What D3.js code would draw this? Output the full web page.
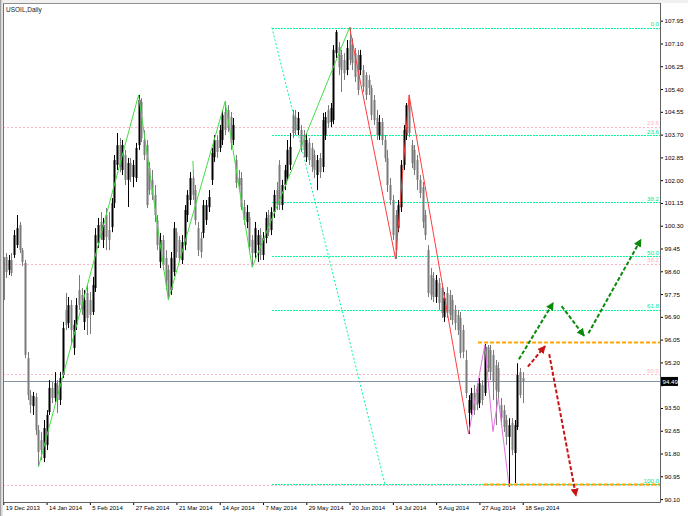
<!DOCTYPE html>
<html><head><meta charset="utf-8">
<script src="https://cdn.jsdelivr.net/npm/d3@7"></script>
<style>body{margin:0;background:#fff}svg{display:block;font-family:"Liberation Sans",Arial,sans-serif}</style>
</head><body><svg id="c" width="688" height="516"></svg>
<script>
const title = "USOIL,Daily";
const tickDates = ["19 Dec 2013","14 Jan 2014","5 Feb 2014","27 Feb 2014","21 Mar 2014","14 Apr 2014","7 May 2014","29 May 2014","20 Jun 2014","14 Jul 2014","5 Aug 2014","27 Aug 2014","18 Sep 2014"];
const tickBars = [0,16,32,48,64,80,96,112,128,144,160,176,192];
const priceTicks = [107.95,107.10,106.25,105.40,104.55,103.70,102.85,102.00,101.15,100.30,99.45,98.60,97.75,96.90,96.05,95.20,94.35,93.50,92.65,91.80,90.95,90.10];
const lastPrice = 94.49;
// [open, high, low, close]
const candles = [
[97.53,99.39,97.34,99.13],[99.13,99.28,98.35,98.57],[98.65,99.21,98.46,99.02],[99.02,99.28,98.42,98.53],[99.21,100.14,99.10,99.95],
[99.58,100.70,99.47,100.21],[100.33,100.44,99.28,99.39],[99.39,99.47,98.80,98.95],[98.91,99.02,95.36,95.48],[95.36,95.59,93.80,93.98],
[93.98,94.17,93.31,93.61],[93.57,94.10,93.24,93.95],[93.91,94.06,92.49,92.68],[92.68,92.86,91.30,91.86],[92.30,92.60,91.56,91.93],
[91.63,93.05,91.48,92.75],[92.12,93.42,91.93,93.24],[93.35,94.54,93.24,94.25],[94.25,94.47,93.68,93.87],[93.87,94.84,93.72,94.43],
[94.36,94.54,93.31,93.80],[93.80,94.84,93.61,94.62],[94.73,96.71,94.62,96.48],[97.16,97.79,96.41,96.60],[96.67,97.64,96.48,97.34],
[97.34,97.53,95.85,96.41],[95.74,96.78,95.48,96.60],[96.60,97.60,96.41,97.34],[97.90,98.46,97.16,97.34],[97.72,97.98,96.97,97.16],
[96.71,97.90,96.41,97.53],[97.79,98.09,96.22,96.86],[97.53,97.83,96.26,96.97],[97.08,98.39,96.97,98.09],[97.98,100.21,97.83,99.95],
[99.65,100.59,99.47,100.33],[100.44,100.81,99.77,99.95],[99.77,100.59,99.47,100.33],[100.70,100.96,99.39,99.88],[100.14,100.81,99.39,99.77],
[100.25,101.33,100.06,101.15],[101.15,102.94,100.96,102.75],[102.57,103.76,102.38,103.31],[103.31,103.57,102.30,102.49],[102.38,103.50,102.19,103.31],
[102.94,103.13,101.82,102.01],[102.01,102.83,101.00,102.64],[102.64,102.83,101.93,102.12],[102.12,102.75,101.74,102.57],[102.08,103.39,101.93,103.20],
[103.31,105.18,103.13,104.99],[104.92,105.06,103.42,103.57],[103.50,103.87,102.75,102.94],[103.31,103.50,100.96,101.07],[102.45,102.68,101.45,101.63],
[102.01,102.38,101.26,101.45],[101.45,101.82,100.44,100.70],[100.51,100.70,99.39,99.58],[98.95,100.03,98.72,99.77],[99.77,99.95,98.65,98.83],
[99.10,99.39,97.90,98.27],[98.65,98.83,97.53,97.72],[97.90,99.32,97.72,99.10],[98.57,100.44,98.42,100.21],[100.06,100.21,99.10,99.32],
[99.77,99.92,98.95,99.10],[99.02,99.95,98.87,99.69],[99.58,101.07,99.39,100.89],[100.70,101.63,100.44,101.45],[101.26,102.30,101.07,102.08],
[102.08,102.38,101.26,101.45],[101.63,101.82,100.33,100.51],[100.21,100.44,99.17,99.39],[99.84,100.06,99.10,99.32],[100.03,101.26,99.84,101.07],
[100.51,101.26,100.33,101.07],[100.99,101.63,100.81,101.37],[102.01,103.20,101.82,103.01],[102.86,103.68,102.68,103.50],[103.50,103.68,102.83,103.05],
[103.20,104.06,103.05,103.87],[103.50,104.62,103.31,104.43],[104.54,104.95,103.68,103.87],[104.62,104.80,103.80,103.95],[104.36,104.54,103.13,103.39],
[103.50,104.32,103.31,104.06],[102.75,102.94,101.71,101.89],[102.08,102.38,101.63,101.82],[102.08,102.30,100.89,101.00],[101.00,101.26,100.33,100.51],
[100.44,101.07,100.21,100.81],[100.62,100.81,99.32,99.51],[99.77,99.95,98.76,99.28],[99.28,100.44,99.10,100.21],[99.58,100.14,98.95,99.95],
[99.95,100.21,99.02,99.21],[99.21,100.06,99.02,99.84],[99.84,100.81,99.65,100.59],[100.70,100.89,99.92,100.06],[100.14,100.99,99.95,100.81],
[100.81,101.63,100.59,101.45],[101.63,101.93,100.89,101.07],[102.57,102.75,100.89,101.07],[101.07,102.01,100.89,101.82],[101.82,102.57,101.63,102.38],
[102.12,103.50,102.01,103.13],[102.57,103.76,102.38,103.24],[104.43,104.62,103.57,103.76],[104.36,104.62,103.68,103.87],[103.87,104.54,103.68,104.32],
[103.87,104.06,103.05,103.24],[103.68,103.87,102.86,103.13],[102.86,103.76,102.68,103.50],[103.39,103.57,102.57,102.75],[103.20,103.39,102.30,102.49],
[102.94,103.13,102.08,102.38],[102.19,102.94,101.63,102.75],[102.83,103.01,102.08,102.30],[102.49,104.51,102.30,104.24],[103.68,104.54,103.50,104.36],
[104.62,104.80,103.95,104.13],[104.17,104.88,103.98,104.69],[104.24,107.04,104.09,106.86],[106.74,107.60,106.56,107.53],[106.97,107.15,105.92,106.22],
[106.67,106.86,105.29,106.11],[106.48,106.74,105.74,105.99],[106.11,107.23,105.92,106.93],[107.23,107.70,106.30,106.48],[107.04,107.30,106.11,106.37],
[106.74,106.93,105.66,105.85],[106.67,106.86,105.18,105.36],[106.11,106.86,105.92,106.67],[106.11,106.30,105.29,105.48],[105.92,106.03,104.99,105.18],
[105.74,105.92,105.18,105.44],[105.44,105.55,104.24,104.43],[104.99,105.18,104.06,104.24],[104.32,104.62,103.50,103.68],[103.68,104.43,103.50,104.17],
[104.17,104.32,103.31,103.50],[103.50,103.68,102.68,102.83],[102.83,103.13,101.56,101.82],[101.82,102.08,101.07,101.26],[101.26,101.45,99.77,99.95],
[100.70,100.89,99.06,99.39],[100.21,101.26,100.06,101.07],[100.99,102.75,100.81,102.57],[102.57,104.06,102.38,103.87],[103.68,104.88,103.50,104.80],
[104.88,105.18,103.61,103.76],[103.31,103.50,102.45,102.64],[103.13,103.31,102.19,102.38],[102.75,102.94,101.63,102.01],[102.01,102.19,101.33,101.52],
[101.74,101.93,100.21,100.44],[100.70,100.89,99.77,99.95],[99.39,99.58,97.64,97.79],[98.46,98.72,97.53,97.72],[98.35,98.57,97.45,97.64],
[97.64,98.46,97.42,98.27],[98.16,98.35,97.16,97.42],[97.98,98.16,96.86,97.05],[96.89,97.83,96.71,97.60],[97.79,98.01,96.86,97.05],
[97.72,97.90,96.78,96.97],[97.53,97.72,96.60,96.78],[97.16,97.34,96.41,96.67],[96.97,97.16,96.22,96.41],[96.86,97.08,95.36,95.55],
[96.41,96.60,95.36,95.59],[95.29,95.66,93.87,94.06],[93.31,93.98,92.53,93.80],[93.42,94.25,93.24,94.06],[94.06,94.36,93.24,93.42],
[94.06,94.36,93.42,93.61],[93.68,94.62,93.50,94.43],[94.36,94.54,93.61,93.80],[94.06,95.89,93.95,95.78],[95.78,95.85,94.84,94.99],
[95.66,95.85,94.54,94.84],[95.48,95.66,93.80,94.47],[95.10,95.29,92.86,94.17],[94.99,95.21,93.87,94.10],[93.61,93.87,92.86,93.13],
[93.42,93.61,92.60,92.79],[93.05,93.24,92.12,92.42],[92.42,93.12,90.55,92.86],[92.94,93.12,91.74,91.93],[91.82,93.05,90.70,92.86],
[92.79,95.17,92.68,94.73],[94.84,94.99,93.87,93.98],[94.62,94.84,93.68,94.49]
];
const zigGreen = [[13,91.30],[50,105.18],[61,97.53],[82,104.93],[92,98.75],[128,107.70]];
const zigGreenStub = [[70.1,102.72],[70.3,102.16]];
const zigRed = [[128,107.70],[145,99.06],[150,105.18],[172,92.53]];
const zigViolet = [[172,92.53],[178,95.85],[181,92.62],[183,93.87],[187,90.55]];
const fibGreenAnchor = [[99.3,107.69],[141.1,90.65]];
const fibGreenLevels = [0,23.6,38.2,50.0,61.8,100.0];
const fibPinkAnchor = [[-40,112.25],[-10,77.25]];
const fibPinkLevels = [23.6,38.2,50.0,61.8];
const fibPinkLabels = [23.6,38.2,50.0];
const supportLevels = [[175.5,95.96],[177.7,90.65]];
const greenArrows = [[[190.6,95.32],[203.3,97.43]],[[206.4,97.30],[214.7,96.19]],[[216.3,96.29],[235.7,99.79]]];
const redArrows = [[[193.9,95.04],[200.3,95.81]],[[201.8,95.51],[211.7,90.22]]];

const W=688,H=516, L=3, R=660, T=3, B=502;
const svg=d3.select("#c");
const x=d3.scaleLinear().domain([0,192]).range([3.3,522.7]);
const y=d3.scaleLinear().domain([90.10,107.95]).range([499.1,20.7]);

svg.append("rect").attr("width",W).attr("height",H).attr("fill","#fff");
svg.append("rect").attr("x",0).attr("y",0).attr("width",W).attr("height",3).attr("fill","#f0f0f0");
svg.append("rect").attr("x",0).attr("y",0).attr("width",1.5).attr("height",H).attr("fill","#a0a0a0");
svg.append("rect").attr("x",1.5).attr("y",0).attr("width",1.5).attr("height",H).attr("fill","#e4e4e4");

const defs=svg.append("defs");
defs.append("clipPath").attr("id","plot").append("rect").attr("x",L+0.5).attr("y",T+0.5).attr("width",R-L-0.5).attr("height",B-T-0.5);
[["ag","#0a8a0a"],["ar","#c81414"]].forEach(([id,col])=>{
  defs.append("marker").attr("id",id).attr("viewBox","0 0 10 10").attr("refX",9).attr("refY",5)
   .attr("markerWidth",4).attr("markerHeight",4).attr("orient","auto").attr("markerUnits","strokeWidth")
   .append("path").attr("d","M0,0L10,5L0,10z").attr("fill",col);
});
const g=svg.append("g").attr("clip-path","url(#plot)");

const pinkP=r=>fibPinkAnchor[0][1]-(fibPinkAnchor[0][1]-fibPinkAnchor[1][1])*r/100;
g.selectAll(".pf").data(fibPinkLevels).join("line")
 .attr("x1",L).attr("x2",R).attr("y1",d=>Math.round(y(pinkP(d)))+0.5).attr("y2",d=>Math.round(y(pinkP(d)))+0.5)
 .attr("stroke","#ffb6c1").attr("stroke-dasharray","2,2").attr("stroke-width",1);
const gP=r=>fibGreenAnchor[0][1]-(fibGreenAnchor[0][1]-fibGreenAnchor[1][1])*r/100;
g.selectAll(".gf").data(fibGreenLevels).join("line")
 .attr("x1",x(fibGreenAnchor[0][0])).attr("x2",R).attr("y1",d=>Math.round(y(gP(d)))+0.5).attr("y2",d=>Math.round(y(gP(d)))+0.5)
 .attr("stroke","#00fa9a").attr("stroke-dasharray","2,1").attr("stroke-width",1);
g.append("line").attr("x1",x(fibGreenAnchor[0][0])).attr("y1",y(fibGreenAnchor[0][1]))
 .attr("x2",x(fibGreenAnchor[1][0])).attr("y2",y(fibGreenAnchor[1][1]))
 .attr("stroke","#00fa9a").attr("stroke-dasharray","2,2").attr("stroke-width",1);

g.append("line").attr("x1",L).attr("x2",R).attr("y1",Math.round(y(lastPrice))+0.5).attr("y2",Math.round(y(lastPrice))+0.5)
 .attr("stroke","#8595a6").attr("stroke-width",1);

const cg=g.append("g");
candles.forEach((c,i)=>{
  const [o,h,l,cl]=c; const up=cl>=o; const col=up?"#000":"#7a7a7a";
  const cx=Math.round(x(i));
  cg.append("line").attr("x1",cx+0.5).attr("x2",cx+0.5).attr("y1",y(h)).attr("y2",y(l)).attr("stroke",col).attr("stroke-width",1);
  const top=y(Math.max(o,cl)), bot=y(Math.min(o,cl));
  cg.append("rect").attr("x",cx-0.5).attr("y",top).attr("width",2).attr("height",Math.max(1,bot-top)).attr("fill",col);
});

const ln=d3.line().x(d=>x(d[0])).y(d=>y(d[1]));
g.append("path").attr("d",ln(zigGreen)).attr("fill","none").attr("stroke","#44dd44").attr("stroke-width",1);
g.append("path").attr("d",ln(zigGreenStub)).attr("fill","none").attr("stroke","#44dd44").attr("stroke-width",1);
g.append("path").attr("d",ln(zigRed)).attr("fill","none").attr("stroke","#ff3c3c").attr("stroke-width",1);
g.append("path").attr("d",ln(zigViolet)).attr("fill","none").attr("stroke","#e070e0").attr("stroke-width",1);

g.selectAll(".or").data(supportLevels).join("line")
 .attr("x1",d=>x(d[0])).attr("x2",R).attr("y1",d=>Math.round(y(d[1]))+0.5).attr("y2",d=>Math.round(y(d[1]))+0.5)
 .attr("stroke","#ffa500").attr("stroke-width",2).attr("stroke-dasharray","4,2");

g.selectAll(".ga").data(greenArrows).join("path").attr("d",d=>ln(d)).attr("fill","none")
 .attr("stroke","#0a8a0a").attr("stroke-width",2).attr("stroke-dasharray","4,2").attr("marker-end","url(#ag)");
g.selectAll(".ra").data(redArrows).join("path").attr("d",d=>ln(d)).attr("fill","none")
 .attr("stroke","#c81414").attr("stroke-width",2).attr("stroke-dasharray","4,2").attr("marker-end","url(#ar)");

svg.selectAll(".gl").data(fibGreenLevels).join("text").attr("x",659).attr("y",d=>y(gP(d))-1.5)
 .attr("text-anchor","end").attr("font-size","6.2px").attr("fill","#00e890").text(d=>d.toFixed(1));
svg.selectAll(".pl").data(fibPinkLabels).join("text").attr("x",659).attr("y",d=>y(pinkP(d))-1.5)
 .attr("text-anchor","end").attr("font-size","6.2px").attr("fill","#ffb6c1").text(d=>d.toFixed(1));

svg.append("line").attr("x1",L+0.5).attr("x2",L+0.5).attr("y1",T).attr("y2",B).attr("stroke","#707070");
svg.append("line").attr("x1",L).attr("x2",R).attr("y1",T+0.5).attr("y2",T+0.5).attr("stroke","#909090");

// right axis (the label under the last-price box is hidden, as in the reference)
const ya=svg.append("g").attr("transform",`translate(${R},0)`)
 .call(d3.axisRight(y).tickValues(priceTicks).tickFormat(d=>Math.abs(d-lastPrice)<0.3?"":d3.format(".2f")(d)).tickSize(3).tickSizeOuter(0).tickPadding(1.5));
ya.select(".domain").remove();
ya.selectAll("line").attr("stroke","#000");
ya.selectAll("text").attr("font-size","6.2px").attr("fill","#000").attr("font-family","Liberation Sans, Arial, sans-serif");
svg.append("line").attr("x1",R+0.5).attr("x2",R+0.5).attr("y1",T).attr("y2",B+0.5).attr("stroke","#606060");

const xa=svg.append("g").attr("transform",`translate(0,${B})`)
 .call(d3.axisBottom(x).tickValues(tickBars).tickFormat((d,i)=>tickDates[i]).tickSize(3).tickSizeOuter(0));
xa.select(".domain").remove();
xa.selectAll("line").attr("stroke","#000");
xa.selectAll("text").attr("text-anchor","start").attr("x",2).attr("y",4).attr("dy","0.71em")
 .attr("font-size","6px").attr("fill","#000").attr("font-family","Liberation Sans, Arial, sans-serif");
svg.append("line").attr("x1",L).attr("x2",R+0.5).attr("y1",B+0.5).attr("y2",B+0.5).attr("stroke","#606060");

const ly=y(lastPrice);
svg.append("rect").attr("x",R+1).attr("y",ly-4.5).attr("width",17).attr("height",9).attr("fill","#000");
svg.append("text").attr("x",R+2.5).attr("y",ly).attr("dy","0.35em").attr("font-size","6.2px").attr("fill","#fff").text(lastPrice.toFixed(2));

svg.append("text").attr("x",6).attr("y",11.5).attr("font-size","6.5px").attr("fill","#222").text(title);
</script></body></html>
